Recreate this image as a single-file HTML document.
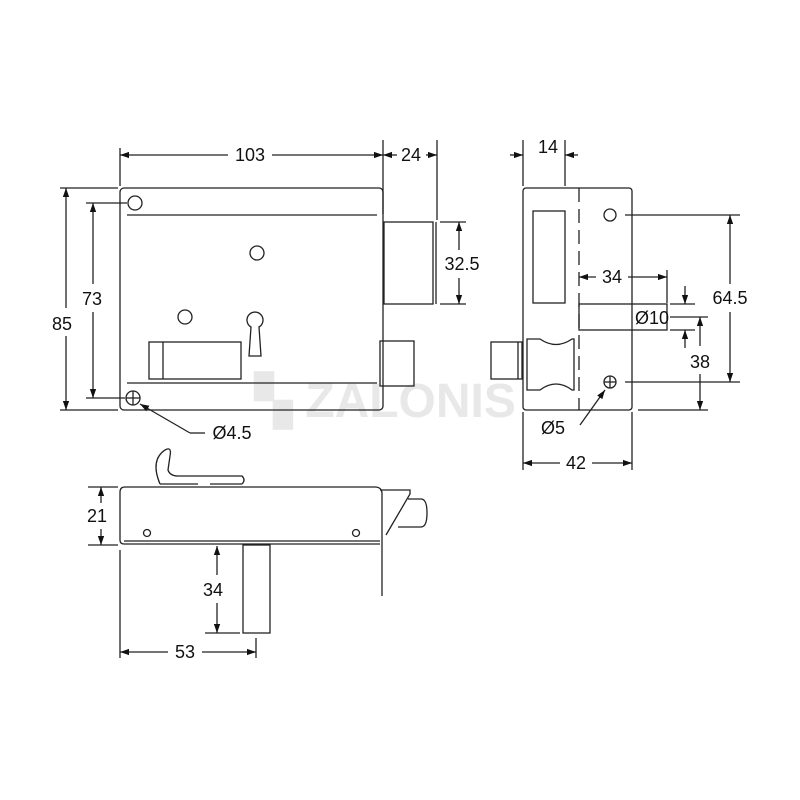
<!DOCTYPE html>
<html><head><style>body{margin:0;background:#fff}svg{display:block}text{font-family:"Liberation Sans",sans-serif;font-size:18px;fill:#111}</style></head>
<body>
<svg width="800" height="800" viewBox="0 0 800 800" xmlns="http://www.w3.org/2000/svg">
<defs><marker id="a" viewBox="0 0 10 10" refX="10" refY="5" markerWidth="12" markerHeight="9" orient="auto-start-reverse" markerUnits="userSpaceOnUse"><path d="M0,1.5L10,5L0,8.5z" fill="#111"/></marker></defs>
<text x="255" y="417" style="font-size:48px;fill:#e8e8e8;font-weight:bold">▚ ZALONIS</text>
<g fill="none" stroke="#222" stroke-width="1.3">
<rect x="120" y="188" width="263" height="222" rx="4"/>
<line x1="127" y1="215" x2="377" y2="215"/><line x1="127" y1="383" x2="377" y2="383"/>
<circle cx="135" cy="203" r="7"/><circle cx="257" cy="253" r="7"/><circle cx="185" cy="317" r="7"/>
<circle cx="133" cy="398" r="7"/><line x1="126" y1="398" x2="140" y2="398"/><line x1="133" y1="391" x2="133" y2="405"/>
<path d="M251,327 A8,8 0 1 1 259,327 L261,356 L249,356 Z"/>
<rect x="149" y="342" width="92" height="37"/><line x1="163" y1="342" x2="163" y2="379"/>
<rect x="384" y="222" width="49" height="82"/><line x1="436" y1="222" x2="436" y2="304"/>
<rect x="380" y="341" width="34" height="45"/>
<line x1="120" y1="148" x2="120" y2="186"/><line x1="383" y1="140" x2="383" y2="214"/><line x1="437" y1="140" x2="437" y2="220"/>
<line x1="120" y1="155" x2="228" y2="155" marker-start="url(#a)"/><line x1="272" y1="155" x2="383" y2="155" marker-end="url(#a)"/>
<line x1="383" y1="155" x2="397" y2="155" marker-start="url(#a)"/><line x1="426" y1="155" x2="437" y2="155" marker-end="url(#a)"/>
<line x1="60" y1="188" x2="118" y2="188"/><line x1="60" y1="410" x2="118" y2="410"/>
<line x1="66" y1="188" x2="66" y2="308" marker-start="url(#a)"/><line x1="66" y1="336" x2="66" y2="410" marker-end="url(#a)"/>
<line x1="86" y1="203" x2="127" y2="203"/><line x1="86" y1="398" x2="125" y2="398"/>
<line x1="93" y1="203" x2="93" y2="284" marker-start="url(#a)"/><line x1="93" y1="312" x2="93" y2="398" marker-end="url(#a)"/>
<line x1="440" y1="222" x2="466" y2="222"/><line x1="440" y1="304" x2="466" y2="304"/>
<line x1="459" y1="222" x2="459" y2="250" marker-start="url(#a)"/><line x1="459" y1="278" x2="459" y2="304" marker-end="url(#a)"/>
<polyline points="190,433 140,404" marker-end="url(#a)"/><line x1="190" y1="433" x2="205" y2="433"/>
<rect x="523" y="188" width="109" height="222" rx="3"/>
<line x1="579" y1="188" x2="579" y2="410" stroke-dasharray="14,7"/>
<rect x="533" y="211" width="32" height="92"/>
<circle cx="610" cy="215" r="6"/>
<circle cx="610" cy="382" r="6"/><line x1="604" y1="382" x2="616" y2="382"/><line x1="610" y1="376" x2="610" y2="388"/>
<path d="M527,339 L540,339 Q556,350 572,339 L574,339 L574,390 L572,390 Q556,378 540,390 L527,390 Z"/>
<rect x="491" y="342" width="31" height="37"/><line x1="518" y1="342" x2="518" y2="379"/>
<rect x="579" y="304" width="88" height="26"/>
<line x1="523" y1="140" x2="523" y2="186"/><line x1="565" y1="140" x2="565" y2="186"/>
<line x1="510" y1="155" x2="523" y2="155" marker-end="url(#a)"/><line x1="578" y1="155" x2="565" y2="155" marker-end="url(#a)"/>
<line x1="667" y1="270" x2="667" y2="303"/>
<line x1="579" y1="277" x2="596" y2="277" marker-start="url(#a)"/><line x1="628" y1="277" x2="667" y2="277" marker-end="url(#a)"/>
<line x1="625" y1="215" x2="740" y2="215"/><line x1="625" y1="382" x2="740" y2="382"/>
<line x1="730" y1="215" x2="730" y2="284" marker-start="url(#a)"/><line x1="730" y1="312" x2="730" y2="382" marker-end="url(#a)"/>
<line x1="670" y1="304" x2="695" y2="304"/><line x1="670" y1="330" x2="695" y2="330"/><line x1="670" y1="317" x2="708" y2="317"/>
<line x1="685" y1="286" x2="685" y2="304" marker-end="url(#a)"/><line x1="685" y1="348" x2="685" y2="330" marker-end="url(#a)"/>
<line x1="638" y1="410" x2="708" y2="410"/>
<line x1="700" y1="317" x2="700" y2="346" marker-start="url(#a)"/><line x1="700" y1="374" x2="700" y2="410" marker-end="url(#a)"/>
<line x1="580" y1="425" x2="605" y2="390" marker-end="url(#a)"/>
<line x1="523" y1="412" x2="523" y2="470"/><line x1="632" y1="412" x2="632" y2="470"/>
<line x1="523" y1="463" x2="560" y2="463" marker-start="url(#a)"/><line x1="592" y1="463" x2="632" y2="463" marker-end="url(#a)"/>
<path d="M380,544 L124,544 Q120,544 120,540 L120,492 Q120,487 125,487 L375,487 Q382,487 382,494 L382,596"/>
<line x1="124" y1="541" x2="380" y2="541"/>
<path d="M160,484 Q150,460 165,450 Q172,446 170,456 L168,470 Q170,476 178,476 L242,476 Q246,480 242,484"/>
<line x1="160" y1="484" x2="198" y2="484"/><line x1="210" y1="484" x2="242" y2="484"/>
<circle cx="147" cy="533" r="3.5"/><circle cx="356" cy="533" r="3.5"/>
<polyline points="380,490 410,490 410,494 386,535"/>
<path d="M408,499 L421,499 Q427,499 427,513 Q427,527 421,527 L398,527"/>
<rect x="243" y="545" width="27" height="88"/>
<line x1="88" y1="487" x2="118" y2="487"/><line x1="88" y1="545" x2="118" y2="545"/>
<line x1="101" y1="487" x2="101" y2="503" marker-start="url(#a)"/><line x1="101" y1="529" x2="101" y2="545" marker-end="url(#a)"/>
<line x1="205" y1="633" x2="240" y2="633"/>
<line x1="217" y1="546" x2="217" y2="575" marker-start="url(#a)"/><line x1="217" y1="603" x2="217" y2="633" marker-end="url(#a)"/>
<line x1="120" y1="550" x2="120" y2="658"/><line x1="256" y1="638" x2="256" y2="658"/>
<line x1="120" y1="652" x2="168" y2="652" marker-start="url(#a)"/><line x1="202" y1="652" x2="256" y2="652" marker-end="url(#a)"/>
</g>
<text x="250" y="161" text-anchor="middle">103</text><text x="411" y="161" text-anchor="middle">24</text>
<text x="62" y="330" text-anchor="middle">85</text><text x="92" y="305" text-anchor="middle">73</text>
<text x="462" y="270" text-anchor="middle">32.5</text><text x="232" y="439" text-anchor="middle">Ø4.5</text>
<text x="548" y="153" text-anchor="middle">14</text><text x="612" y="283" text-anchor="middle">34</text>
<text x="652" y="324" text-anchor="middle">Ø10</text><text x="730" y="304" text-anchor="middle">64.5</text>
<text x="700" y="368" text-anchor="middle">38</text><text x="553" y="434" text-anchor="middle">Ø5</text>
<text x="576" y="469" text-anchor="middle">42</text><text x="97" y="522" text-anchor="middle">21</text>
<text x="213" y="596" text-anchor="middle">34</text><text x="185" y="658" text-anchor="middle">53</text>
</svg>
</body></html>
